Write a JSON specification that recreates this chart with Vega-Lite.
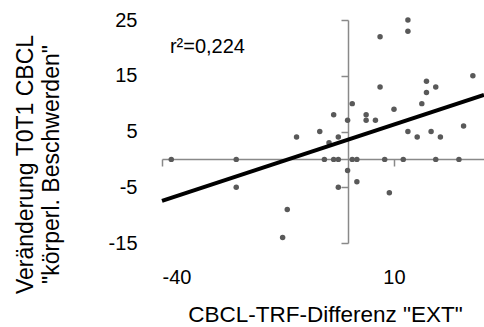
{
  "$schema": "https://vega.github.io/schema/vega-lite/v6.json",
  "autosize": "none",
  "width": 322,
  "height": 223,
  "padding": {"left": 162, "top": 20, "right": 0, "bottom": 84},
  "background": "white",
  "config": {"view": {"stroke": null}, "font": "Liberation Sans"},
  "datasets": {
    "pts": [
      {"x": 13, "y": 25}, {"x": 13, "y": 23}, {"x": 7, "y": 22}, {"x": 7, "y": 13},
      {"x": 27, "y": 15}, {"x": 17, "y": 14}, {"x": 17, "y": 12}, {"x": 19, "y": 13},
      {"x": 1, "y": 10}, {"x": 10, "y": 9}, {"x": 16, "y": 10}, {"x": -3, "y": 8},
      {"x": 4, "y": 8}, {"x": 0, "y": 7}, {"x": 4, "y": 7}, {"x": 6, "y": 7},
      {"x": -6, "y": 5}, {"x": 13, "y": 5}, {"x": 18, "y": 5}, {"x": 25, "y": 6},
      {"x": -11, "y": 4}, {"x": -4, "y": 3}, {"x": -2, "y": 4}, {"x": 15, "y": 4},
      {"x": 20, "y": 4}, {"x": -5, "y": 0}, {"x": -3, "y": 0}, {"x": -2, "y": 0},
      {"x": 1, "y": 0}, {"x": 2, "y": 0}, {"x": 8, "y": 0}, {"x": 12, "y": 0},
      {"x": 19, "y": 0}, {"x": 24, "y": 0}, {"x": 0, "y": -2}, {"x": -2, "y": -5},
      {"x": 2, "y": -4}, {"x": 9, "y": -6}, {"x": -38, "y": 0}, {"x": -24, "y": 0},
      {"x": -24, "y": -5}, {"x": -13, "y": -9}, {"x": -14, "y": -14}
    ],
    "fit": [{"x": -40, "y": -7.46}, {"x": 29.4, "y": 11.55}],
    "note": [{"x": -38.3, "y": 20.2, "label": "r²=0,224"}]
  },
  "resolve": {"axis": {"x": "independent", "y": "independent"}},
  "layer": [
    {
      "data": {"name": "pts"},
      "mark": {"type": "circle", "size": 30, "color": "#595959", "opacity": 1},
      "encoding": {
        "x": {"field": "x", "type": "quantitative",
          "scale": {"domain": [-40, 29.4], "nice": false, "zero": false},
          "axis": {"orient": "bottom", "values": [-40, 10], "domain": false, "ticks": false, "grid": false,
            "labelExpr": "'' + datum.value",
            "labelFontSize": 20, "labelColor": "#000000", "labelPadding": 24, "labelFont": "Liberation Sans",
            "title": "CBCL-TRF-Differenz \"EXT\"", "titleFontSize": 22.5, "titleFontWeight": "normal",
            "titleColor": "#000000", "titleX": 163, "titleY": 78, "titleBaseline": "alphabetic", "titleAlign": "center"}},
        "y": {"field": "y", "type": "quantitative",
          "scale": {"domain": [-15, 25], "nice": false, "zero": false},
          "axis": {"orient": "left", "values": [-15, -5, 5, 15, 25], "domain": false, "ticks": false, "grid": false,
            "labelExpr": "'' + datum.value",
            "labelFontSize": 20, "labelColor": "#000000", "labelPadding": 25, "labelFont": "Liberation Sans",
            "title": ["Veränderung T0T1 CBCL", "\"körperl. Beschwerden\""], "titleFontSize": 23, "titleFontWeight": "normal",
            "titleColor": "#000000", "titleX": -148, "titleY": 144, "titleBaseline": "top", "titleAlign": "center",
            "titleAngle": -90, "titleLineHeight": 26}}
      }
    },
    {
      "data": {"name": "fit"},
      "mark": {"type": "line", "color": "#000000", "strokeWidth": 4},
      "encoding": {
        "x": {"field": "x", "type": "quantitative",
          "axis": {"orient": "bottom", "offset": -84, "values": [-40, 10], "labels": false, "domain": true,
            "domainColor": "#898989", "domainWidth": 1.5, "ticks": true, "tickColor": "#898989", "tickWidth": 1.5,
            "tickSize": 7, "grid": false, "title": null}},
        "y": {"field": "y", "type": "quantitative",
          "axis": {"orient": "left", "offset": -186, "values": [-15, -5, 5, 15, 25], "labels": false, "domain": true,
            "domainColor": "#898989", "domainWidth": 1.5, "ticks": true, "tickColor": "#898989", "tickWidth": 1.5,
            "tickSize": 7, "grid": false, "title": null}}
      }
    },
    {
      "data": {"name": "note"},
      "mark": {"type": "text", "align": "left", "baseline": "middle", "fontSize": 20, "font": "Liberation Sans", "color": "#000000"},
      "encoding": {
        "x": {"field": "x", "type": "quantitative", "axis": null},
        "y": {"field": "y", "type": "quantitative", "axis": null},
        "text": {"field": "label"}
      }
    }
  ]
}
